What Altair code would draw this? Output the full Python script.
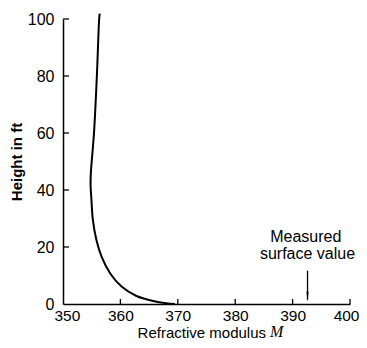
import altair as alt
import pandas as pd

# Curve: refractive modulus M vs height, ordered bottom to top
curve_m = [369.5, 368.0, 365.7, 362.8, 360.2, 358.2, 356.7, 355.8, 355.2, 354.95,
           354.8, 354.85, 355.0, 355.4, 355.9, 356.3, 356.4]
curve_h = [0, 0.25, 1.05, 2.8, 6.1, 10.8, 16.7, 22.6, 29.6, 36.7,
           42, 46, 50, 60, 80, 100, 101.9]

x_ticks = [350, 360, 370, 380, 390, 400]
y_ticks = [0, 20, 40, 60, 80, 100]

surface_m = 392.6
arrow_top_h = 11.7
annot_lines = ["Measured", "surface value"]
annot_h = [21.6, 15.9]

FONT = "Liberation Sans"
W, H = 287, 285

curve_df = pd.DataFrame({"M": curve_m, "h": curve_h, "i": list(range(len(curve_m)))})
xscale = alt.Scale(domain=[350, 400], nice=False, zero=False)
yscale = alt.Scale(domain=[0, 100], nice=False, zero=True)

xaxis = alt.Axis(values=x_ticks, title=None, ticks=False, tickSize=0, grid=False,
                 labelPadding=4, labelFlush=True, labelFlushOffset=9, format="d",
                 labelFontSize=15.5)
yaxis = alt.Axis(values=y_ticks, title="Height in ft", ticks=False, tickSize=0, grid=False,
                 labelPadding=9, labelFlush=False, format="d",
                 titleFont=FONT, titleFontSize=15, titleFontWeight="bold",
                 titlePadding=3, titleColor="black")

X = lambda f: alt.X(f, scale=xscale, axis=xaxis)
Y = lambda f: alt.Y(f, scale=yscale, axis=yaxis)

line = alt.Chart(curve_df).mark_line(
    color="black", strokeWidth=2, interpolate="catmull-rom", clip=False
).encode(x=X("M:Q"), y=Y("h:Q"), order="i:Q")

xt = alt.Chart(pd.DataFrame({"M": x_ticks[1:]})).mark_rule(color="black", strokeWidth=1.3).encode(
    x=X("M:Q"), y=alt.value(H), y2=alt.value(H - 5),
)
yt = alt.Chart(pd.DataFrame({"h": y_ticks[1:]})).mark_rule(color="black", strokeWidth=1.3).encode(
    y=Y("h:Q"), x=alt.value(0), x2=alt.value(6),
)

arrow_df = pd.DataFrame({"M": [surface_m], "h": [arrow_top_h], "h2": [1.5], "hp": [2.6]})
arrow_line = alt.Chart(arrow_df).mark_rule(color="black", strokeWidth=1.3).encode(
    x=X("M:Q"), y=Y("h:Q"), y2="h2:Q",
)
arrow_head = alt.Chart(arrow_df).mark_point(
    shape="M-0.22,-1L0.22,-1L0,1Z", filled=True, color="black", size=100, opacity=1
).encode(x=X("M:Q"), y=Y("hp:Q"))

annot_df = pd.DataFrame({"M": [surface_m - 0.3, surface_m], "h": annot_h, "t": annot_lines})
annot = alt.Chart(annot_df).mark_text(
    align="center", baseline="alphabetic", font=FONT, fontSize=16, color="black"
).encode(x=X("M:Q"), y=Y("h:Q"), text="t:N")

xtitle_a = alt.Chart(pd.DataFrame({"t": ["Refractive modulus"]})).mark_text(
    align="right", baseline="alphabetic", font=FONT, fontSize=15, color="black"
).encode(x=alt.value(203), y=alt.value(319), text="t:N")
xtitle_b = alt.Chart(pd.DataFrame({"t": ["M"]})).mark_text(
    align="left", baseline="alphabetic", font="Liberation Serif", fontSize=16,
    fontStyle="italic", color="black"
).encode(x=alt.value(207), y=alt.value(318), text="t:N")

chart = alt.layer(line, xt, yt, arrow_line, arrow_head, annot, xtitle_a, xtitle_b).properties(
    width=W, height=H,
    autosize=alt.AutoSizeParams(type="none"),
    padding={"left": 55, "top": 11, "right": 9, "bottom": 36},
    background="white",
).configure_view(strokeOpacity=0).configure_axis(
    domainColor="black", domainWidth=1.5, labelColor="black",
    labelFont=FONT, labelFontSize=16,
)

chart.save("out.html", embed_options={"renderer": "svg", "actions": False})
